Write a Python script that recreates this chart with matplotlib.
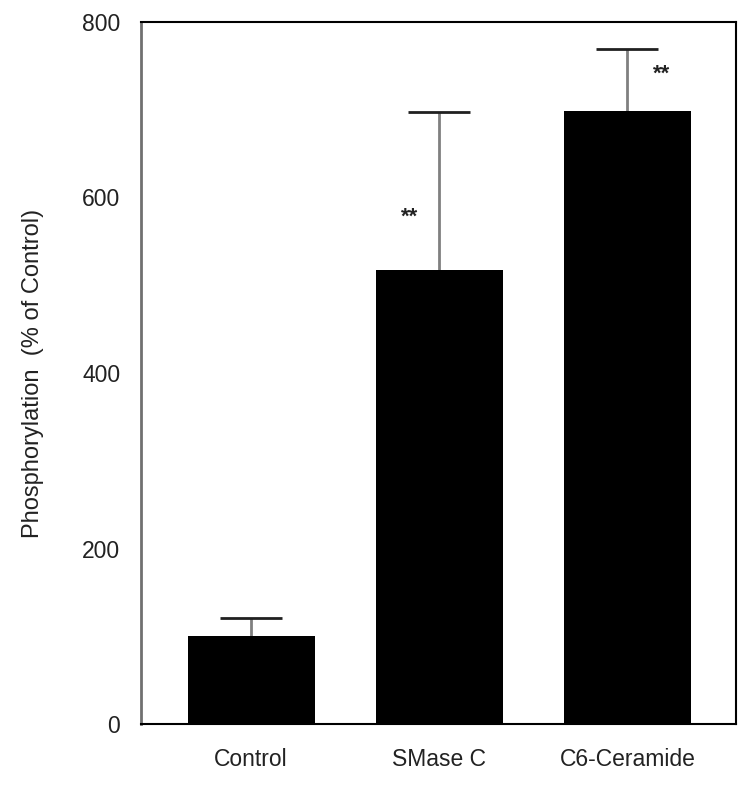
import matplotlib
matplotlib.use("Agg")
import matplotlib.pyplot as plt

categories = ["Control", "SMase C", "C6-Ceramide"]
values = [100, 517, 699]
errors = [21, 181, 70]
sig_labels = ["", "**", "**"]
sig_y = [None, 577, 740]
sig_dx = [0, -0.16, 0.18]
yticks = [0, 200, 400, 600, 800]

plt.rcParams['font.family'] = ['Liberation Sans', 'DejaVu Sans']
fig = plt.figure(figsize=(7.5, 7.88), dpi=100)
ax = fig.add_axes([141/750, 1 - 724/788, (736-141)/750, (724-22)/788])

x = list(range(len(categories)))
ax.bar(x, values, width=0.675, color='black', zorder=2)
for xi, v, e in zip(x, values, errors):
    ax.plot([xi, xi], [v, v + e], color='#808080', lw=2, zorder=1, solid_capstyle='butt')
    ax.plot([xi - 0.165, xi + 0.165], [v + e, v + e], color='#202020', lw=2, zorder=1, solid_capstyle='butt')
for xi, s, sy, dx in zip(x, sig_labels, sig_y, sig_dx):
    if s:
        ax.text(xi + dx, sy, s, ha='center', va='center', fontsize=16, fontweight='bold', color='#222222')

txt_color = '#222222'
ax.set_xlim(-0.585, 2.577)
ax.set_ylim(0, 800)
ax.set_yticks(yticks)
ax.set_xticks(x)
ax.set_xticklabels(categories)
ax.tick_params(axis='both', length=0, labelsize=16.5, labelcolor=txt_color)
ax.tick_params(axis='y', pad=15)
ax.tick_params(axis='x', pad=17)
ax.set_ylabel("Phosphorylation  (% of Control)", fontsize=17, labelpad=27, color=txt_color)
for side in ['top', 'right', 'bottom']:
    ax.spines[side].set_color('black')
    ax.spines[side].set_linewidth(1.5)
ax.spines['left'].set_color('#707070')
ax.spines['left'].set_linewidth(2)

fig.savefig("out.png", dpi=100)
